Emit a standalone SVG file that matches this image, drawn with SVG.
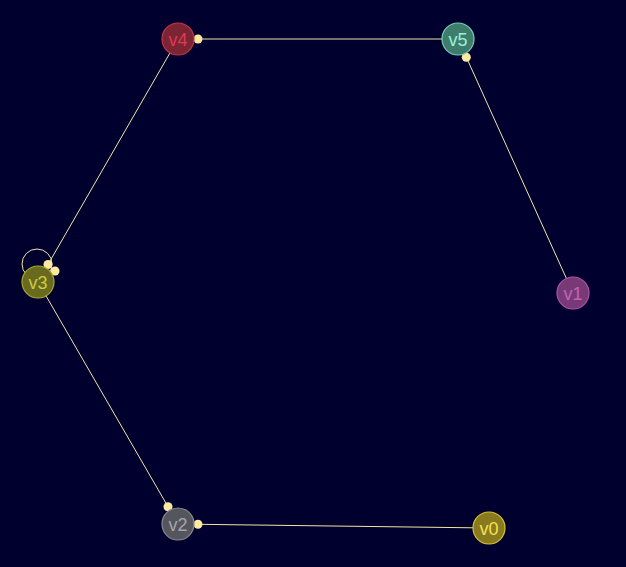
<svg xmlns="http://www.w3.org/2000/svg" width="626" height="567" viewBox="0 0 626 567">
<style>
.edge{stroke:#f3e4a6;stroke-width:1;fill:none}
.dot{fill:#fde9a0}
.node circle{stroke-width:1.2}
.node text{font-family:"Liberation Sans",Arial,sans-serif;font-size:18px;text-anchor:middle;dominant-baseline:central}
</style>
<rect width="626" height="567" fill="#00002e"/>
<g id="connectors">
<line class="edge" x1="458" y1="39" x2="198" y2="39"/>
<circle class="dot" cx="198" cy="39" r="4.5"/>
<line class="edge" x1="573" y1="293" x2="466.3" y2="57.2"/>
<circle class="dot" cx="466.3" cy="57.2" r="4.5"/>
<line class="edge" x1="178" y1="39" x2="48" y2="264.5"/>
<circle class="dot" cx="48" cy="264.5" r="4.5"/>
<circle class="edge" cx="37" cy="264" r="15"/>
<circle class="dot" cx="55" cy="271" r="4.5"/>
<line class="edge" x1="38" y1="282" x2="168" y2="506.7"/>
<circle class="dot" cx="168" cy="506.7" r="4.5"/>
<line class="edge" x1="489" y1="528" x2="198" y2="524.3"/>
<circle class="dot" cx="198" cy="524.3" r="4.5"/>
</g>
<g id="v4" class="node"><circle cx="178" cy="39" r="16" fill="#7b2433" stroke="#c83448"/><text x="178" y="40" fill="#dc3a52">v4</text></g>
<g id="v5" class="node"><circle cx="458" cy="39" r="16" fill="#3e7d6c" stroke="#72d2b8"/><text x="458" y="40" fill="#9af0da">v5</text></g>
<g id="v3" class="node"><circle cx="38" cy="282" r="16" fill="#6a6a1e" stroke="#a8a82e"/><text x="38" y="283" fill="#cccc40">v3</text></g>
<g id="v1" class="node"><circle cx="573" cy="293" r="16" fill="#783a76" stroke="#b052a8"/><text x="573" y="294" fill="#c462ba">v1</text></g>
<g id="v2" class="node"><circle cx="178" cy="524" r="16" fill="#55555e" stroke="#8a8a92"/><text x="178" y="525" fill="#a4a4ac">v2</text></g>
<g id="v0" class="node"><circle cx="489" cy="528" r="16" fill="#8a7a1e" stroke="#dcc232"/><text x="489" y="529" fill="#f2e252">v0</text></g>
</svg>
